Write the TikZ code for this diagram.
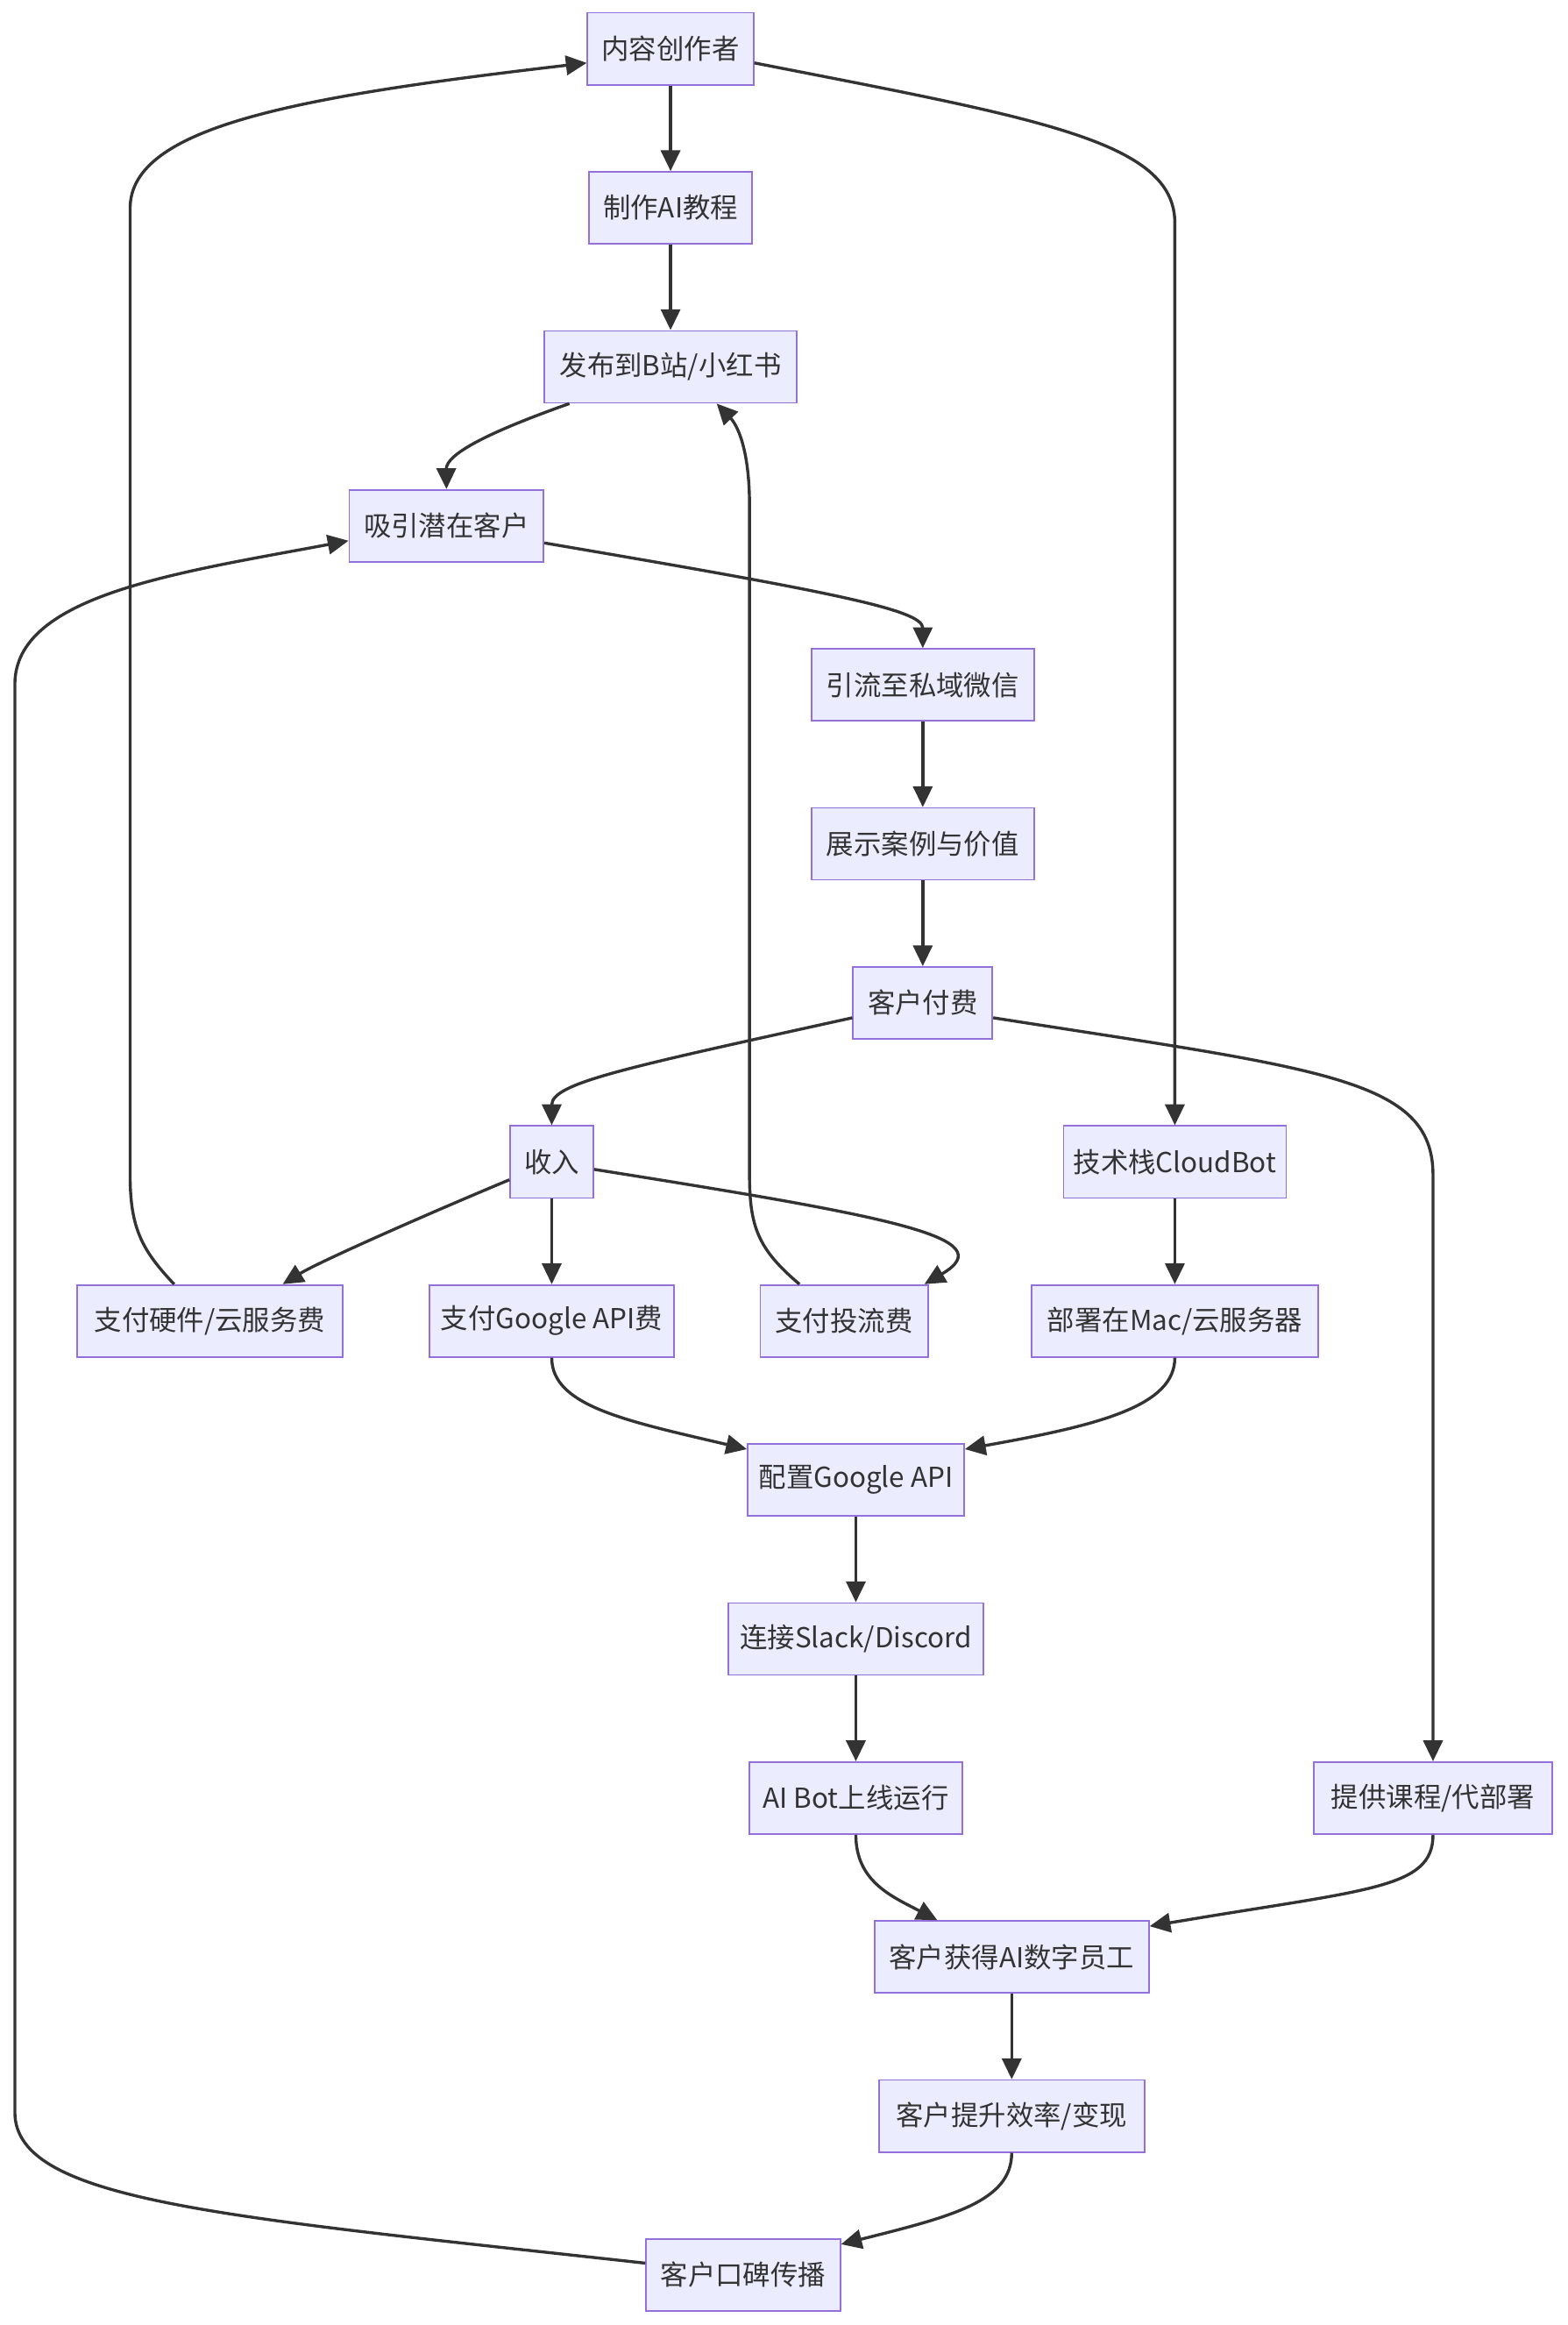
\documentclass[tikz,border=0pt]{standalone}
\usepackage{fontspec}
\setmainfont{Noto Sans CJK SC}
\usetikzlibrary{arrows.meta}
\definecolor{nodefill}{HTML}{ECECFF}
\definecolor{nodeline}{HTML}{9370DB}
\definecolor{edgeline}{HTML}{333333}
\begin{document}
\begin{tikzpicture}[>={Triangle[length=14pt,width=13pt]},x=1pt,y=-1pt,
 font=\fontsize{18.5pt}{22pt}\selectfont,
 box/.style={draw=nodeline,fill=nodefill,line width=1pt,text=edgeline,
 minimum height=48.4pt,inner sep=0pt},
 link/.style={->,draw=edgeline,line width=2pt}]
 \useasboundingbox (0,0) rectangle (1054,1563);
 % boxes, row by row
 \node[box,minimum width=111.7pt] (creator) at (450.9,32.8) {内容创作者};
 \node[box,minimum width=109.7pt] (tutorial) at (450.9,139.7) {制作AI教程};
 \node[box,minimum width=169.6pt] (publish) at (450.9,246.6) {发布到B站/小红书};
 \node[box,minimum width=130.7pt] (attract) at (300.2,353.5) {吸引潜在客户};
 \node[box,minimum width=149.6pt] (wechat) at (620.5,460.4) {引流至私域微信};
 \node[box,minimum width=149.6pt] (showcase) at (620.5,567.3) {展示案例与价值};
 \node[box,minimum width=93.7pt] (pay) at (620.5,674.2) {客户付费};
 \node[box,minimum width=55.9pt] (income) at (371,781.1) {收入};
 \node[box,minimum width=149.6pt] (stack) at (790,781.1) {技术栈CloudBot};
 \node[box,minimum width=178.8pt] (hw) at (141.1,888) {支付硬件/云服务费};
 \node[box,minimum width=164.5pt] (gapi) at (371,888) {支付Google API费};
 \node[box,minimum width=112.7pt] (ads) at (567.6,888) {支付投流费};
 \node[box,minimum width=192.6pt] (deploy) at (790,888) {部署在Mac/云服务器};
 \node[box,minimum width=145.6pt] (config) at (575.5,994.9) {配置Google API};
 \node[box,minimum width=171.6pt] (connect) at (575.5,1101.8) {连接Slack/Discord};
 \node[box,minimum width=143.6pt] (online) at (575.5,1208.7) {AI Bot上线运行};
 \node[box,minimum width=160.6pt] (course) at (963.6,1208.7) {提供课程/代部署};
 \node[box,minimum width=184.5pt] (employee) at (680.3,1315.6) {客户获得AI数字员工};
 \node[box,minimum width=178.6pt] (boost) at (680.3,1422.5) {客户提升效率/变现};
 \node[box,minimum width=130.7pt] (wom) at (499.7,1529.4) {客户口碑传播};
 % links
 \draw[link] (creator) -- (tutorial);
 \draw[link] ([yshift=-9.5pt]creator.east) .. controls (700,80) and (790,95) .. (790,150) -- (stack.north);
 \draw[link] (tutorial) -- (publish);
 \draw[link] ([xshift=-68pt]publish.south) .. controls (330,290) and (300,305) .. (attract.north);
 \draw[link] ([yshift=-11.5pt]attract.east) .. controls (560,398) and (620.5,410) .. (wechat.north);
 \draw[link] (wechat) -- (showcase);
 \draw[link] (showcase) -- (pay);
 \draw[link] ([yshift=-10pt]pay.west) .. controls (420,718) and (371,728) .. (income.north);
 \draw[link] ([yshift=-10pt]pay.east) .. controls (890,719) and (963.6,725) .. (963.6,790) -- (course.north);
 \draw[link] (stack) -- (deploy);
 \draw[link] ([yshift=-12pt]income.west) .. controls (290,815) and (215,848) .. ([xshift=49pt]hw.north);
 \draw[link] (income) -- (gapi);
 \draw[link] ([yshift=-5pt]income.east) .. controls (600,818) and (675,832) .. ([xshift=54pt]ads.north);
 \draw[link] ([xshift=-30pt]ads.north) .. controls (510,840) and (504,825) .. (504,790) -- (504,340)
 .. controls (504,300) and (495,285) .. ([xshift=31pt]publish.south);
 \draw[link] ([xshift=-24pt]hw.north) .. controls (95,840) and (87.5,825) .. (87.5,790) -- (87.5,140)
 .. controls (87.5,85) and (200,65) .. ([yshift=-9.5pt]creator.west);
 \draw[link] (gapi.south) .. controls (371,945) and (420,955) .. ([yshift=-4pt]config.north west);
 \draw[link] (deploy.south) .. controls (790,945) and (740,958) .. ([yshift=-4pt]config.north east);
 \draw[link] (config) -- (connect);
 \draw[link] (connect) -- (online);
 \draw[link] (online.south) .. controls (575.5,1265) and (600,1275) .. ([xshift=-50pt]employee.north);
 \draw[link] (course.south) .. controls (963.6,1270) and (920,1270) .. ([yshift=-4pt]employee.north east);
 \draw[link] (employee) -- (boost);
 \draw[link] (boost.south) .. controls (680.3,1480) and (640,1490) .. ([yshift=-4pt]wom.north east);
 \draw[link] ([yshift=8pt]wom.west) .. controls (150,1490) and (10,1480) .. (10,1420) -- (10,460)
 .. controls (10,400) and (120,385) .. ([yshift=-10pt]attract.west);
\end{tikzpicture}
\end{document}
